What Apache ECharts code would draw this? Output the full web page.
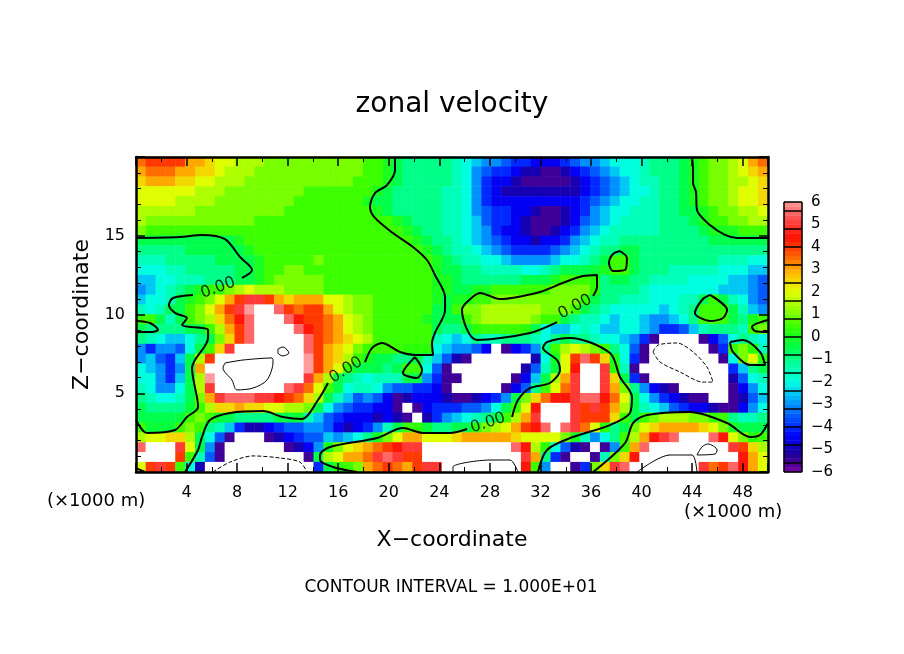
<!DOCTYPE html>
<html>
<head>
<meta charset="utf-8">
<title>zonal velocity</title>
<script src="https://cdn.jsdelivr.net/npm/echarts@6/dist/echarts.min.js"></script>
<style>
  html, body { margin: 0; padding: 0; background: #fff; }
  #chart { width: 904px; height: 654px; }
</style>
</head>
<body>
<div id="chart"></div>
<script>
// --- zonal velocity, top row first, 64 columns by 32 rows ---
// white areas are outside the colour bar, written as 9 and -9
const zonalRows = [
[3.5,4,4,4,4,3,3,2.5,2,2, 1.5,1.5,1.5,1,1,1,1,1,1,1, 1,1,1,.5,.5,0,-.5,-1,-1,-1, -1,-1,-1.5,-2,-2.5,-3,-3,-3.5,-4,-4, -4.5,-4.5,-4.5,-4,-3.5,-3,-3,-2.5,-2,-2, -2,-1.5,-1,-1,-1,-.5,0,.5,1,1, 1.5,2,3,3.5],
[3,3.5,3.5,3.5,3,3,2.5,2.5,2,1.5, 1.5,1.5,1,1,1,1,1,1,1,1, 1,1,1,.5,.5,0,-.5,-1,-1,-1, -1,-1,-1.5,-2,-3,-3.5,-4,-4,-4.5,-5, -5,-5.5,-5.5,-5,-4.5,-4,-3.5,-3,-2.5,-2, -2,-1.5,-1,-1,-1,-.5,0,.5,1,1, 1.5,2,2.5,3],
[2.5,3,3,3,2.5,2.5,2,2,1.5,1.5, 1.5,1,1,1,1,1,1,1,1,1, 1,1,.5,.5,.5,0,-.5,-1,-1,-1, -1,-1,-1.5,-2,-3,-4,-4.5,-4.5,-5,-5.5, -5.5,-5.5,-5.5,-5.5,-5,-4.5,-4,-3.5,-3,-2.5, -2,-1.5,-1.5,-1,-1,-.5,0,.5,1,1, 1.5,1.5,2,2.5],
[2,2,2,2,2,2,1.5,1.5,1.5,1, 1,1,1,1,1,1,1,.5,.5,.5, .5,.5,.5,.5,0,-.5,-1,-1,-1,-1, -1,-1.5,-1.5,-2,-3,-4,-4.5,-5,-5,-5, -5,-5,-5,-5,-5,-4.5,-4,-3.5,-3,-2.5, -2,-2,-1.5,-1,-1,-.5,0,.5,1,1, 1.5,2,2,2.5],
[2,2,2,2,1.5,1.5,1.5,1.5,1,1, 1,1,1,1,1,1,.5,.5,.5,.5, .5,.5,.5,0,-.5,-.5,-1,-1,-1,-1, -1,-1.5,-1.5,-2,-3,-4,-4.5,-4.5,-4.5,-4.5, -4.5,-4.5,-4.5,-4.5,-4.5,-4,-3.5,-3,-2.5,-2, -2,-1.5,-1.5,-1,-1,-.5,0,.5,1,1, 1.5,2,2,2.5],
[1.5,1.5,1.5,1.5,1.5,1.5,1,1,1,1, 1,1,1,1,1,.5,.5,.5,.5,.5, .5,.5,.5,.5,0,-.5,-1,-1,-1,-1, -1,-1.5,-1.5,-2,-3,-3.5,-4,-4,-4.5,-4.5, -5,-5.5,-5.5,-5,-4.5,-4,-3,-2.5,-2,-2, -1.5,-1.5,-1.5,-1,-1,-.5,-.5,0,.5,1, 1,1.5,1.5,2],
[1.5,1,1,1,1,1,1,1,1,1, 1,1,.5,.5,.5,.5,.5,.5,.5,.5, .5,.5,.5,.5,.5,.5,0,-.5,-1,-1, -1,-1.5,-1.5,-2,-2.5,-3.5,-4,-4,-4.5,-5, -5.5,-5.5,-5.5,-5,-4.5,-3.5,-3,-2.5,-2,-1.5, -1.5,-1.5,-1.5,-1,-1,-1,-.5,0,.5,.5, 1,1,1.5,1.5],
[1,.5,.5,.5,.5,.5,.5,.5,.5,.5, .5,.5,.5,.5,.5,.5,.5,.5,.5,.5, .5,.5,.5,.5,.5,.5,.5,0,-.5,-1, -1,-1.5,-1.5,-2,-2.5,-3,-4,-4.5,-4.5,-5, -5.5,-5.5,-5,-4.5,-4,-3,-2.5,-2,-1.5,-1.5, -1.5,-1.5,-1.5,-1,-1,-1,-1,-.5,0,0, 0,.5,.5,.5],
[-.5,-.5,-.5,-.5,-.5,-.5,-.5,-.5,-.5,-.5, 0,.5,.5,.5,.5,.5,.5,.5,.5,.5, .5,.5,.5,.5,.5,.5,.5,.5,0,-.5, -1,-1,-1.5,-2,-2.5,-3,-3.5,-4,-4.5,-4.5, -5,-4.5,-4.5,-4,-3,-2.5,-2,-1.5,-1.5,-1, -1,-1,-1,-1,-1,-1,-1,-1,-.5,-.5, -.5,-.5,-.5,-.5],
[-1,-1,-1,-1,-1,-.5,-.5,-.5,-.5,-.5, -.5,0,.5,.5,.5,.5,.5,.5,.5,.5, .5,.5,.5,.5,.5,.5,.5,.5,.5,0, -.5,-1,-1.5,-1.5,-2,-2.5,-3,-3.5,-4,-4, -4,-4,-3.5,-3,-2.5,-2,-1.5,-1,-1,-.5, -.5,-1,-1,-1,-1,-1,-1,-1,-1,-1, -1,-1,-1,-1],
[-1.5,-1.5,-1.5,-1,-1,-1,-1,-1,-.5,-.5, -.5,-.5,0,.5,.5,.5,.5,.5,1,.5, .5,.5,.5,.5,.5,.5,.5,.5,.5,.5, 0,-.5,-1,-1.5,-1.5,-2,-2,-2.5,-3,-3, -3,-3,-2.5,-2,-2,-1.5,-1,-.5,.5,.5, -.5,-1,-1,-1,-1,-1,-1,-1,-1,-1.5, -1.5,-1.5,-2,-2],
[-2,-2,-2,-1.5,-1.5,-1,-1,-1,-1,-1, -.5,-.5,0,.5,.5,1,1,.5,.5,.5, .5,.5,.5,.5,.5,.5,.5,.5,.5,.5, 0,-.5,-.5,-1,-1,-1.5,-1.5,-1.5,-1.5,-2, -2,-1.5,-1,-.5,-.5,-.5,-.3,0,.5,.5, -.5,-1,-1,-1,-1.5,-1.5,-1.5,-1.5,-1.5,-2, -2,-2,-2.5,-2.5],
[-2.5,-2.5,-2,-2,-1.5,-1.5,-1.5,-1,-1,-1, -.5,-.5,0,.5,1,1,1,1,1,.5, .5,.5,.5,.5,.5,.5,.5,.5,.5,.5, 0,0,-.5,-1,-1,-1,-1,-1,-1,-.5, -.5,-.5,0,.5,.5,.5,.3,-1,-.5,-.5, -1,-1,-1.5,-1.5,-1.5,-1.5,-2,-2,-2,-2, -2.5,-2.5,-3,-3.5],
[-3,-2.5,-2,-1.5,-1,-.5,0,.5,.5,1, 1.5,2,1.5,1.5,1.5,1,1,1,1,.5, .5,.5,.5,.5,.5,.5,.5,.5,.5,.5, 0,0,-.5,-.5,0,0,.5,.5,.5,.5, .5,.5,1,1,1,1,.3,-1,-1,-1, -1,-1.5,-2,-2,-2,-2,-2,-2,-2,-2.5, -2.5,-2.5,-3,-3.5],
[-2.5,-2,-2,-1.5,-.5,0,.5,1,2,3, 4,5,5,4,3,2.5,3,3,3,2, 2,1.5,1,1,.5,.5,.5,.5,.5,.5, 0,-.5,0,0,.5,.5,1,1,1,1, 1,1,1,1,1,.5,-.5,-1,-1,-1.5, -1.5,-1.5,-2,-2,-2,-1.5,-1.5,-.5,.5,-.5, -1.5,-2,-3,-3.5],
[-1.5,-2,-1.5,-.5,-.5,.5,1,2,3,4, 5,6,9,9,5.5,4,3.5,4,4,3, 2,1.5,1,1,.5,.5,.5,.5,.5,.5, -.5,-.5,.5,1,1,1.5,1.5,1.5,1.5,1.5, 1.5,1,1,1,.5,-.5,-1,-1.5,-2,-2, -2,-2,-2,-2.5,-2,-1.5,-1,.5,.5,.5, -.5,-1.5,-2.5,-3],
[.5,.5,-.5,-1.5,-.5,.5,1,1.5,2.5,3.5, 4.5,5.5,9,9,9,5.5,4.5,4,4,3.5, 3,2,1.5,1,.5,.5,.5,.5,.5,0, -.5,-.5,-.5,.5,1,1.5,1.5,1.5,1.5,1.5, 1,.5,.5,-.5,-1,-1.5,-1.5,-2,-2.5,-2, -2,-2.5,-3,-3,-2.5,-2,-1,.5,.5,.5, -.5,-1,0,.5],
[-.5,-1,-1,-1,-1,-.5,-.5,.5,1.5,3, 4,5.5,9,9,9,9,5.5,4.5,4,3.5, 3,2,1.5,1,.5,.5,.5,.5,.5,.5, -.5,-1,-1,-.5,.3,.5,.5,.5,.5,.3, -.5,-2,-2.5,-2.5,-2,-1.5,-2,-2.5,-2.5,-2, -2,-2.5,-3,-4,-4,-3.5,-2.5,-1.5,-1,-1, -1,-1.5,.5,1],
[-1,-1.5,-2,-2.5,-2.5,-2,-1,-.5,1,2.5, 4,5.5,9,9,9,9,9,5.5,4,3.5, 3,2.5,2,1.5,.5,.5,.5,.5,.5,.5, -1.5,-2,-2.5,-2,-1,-1.5,-1.5,-1,-1,-1, -1.5,-2,-1,-.5,-1,-1,-1.5,-2,-2,-2.5, -3,-4,-5.5,-9,-9,-9,-9,-5.5,-4.5,-3.5, -2,-1,-1.5,-2],
[-3,-4,-3,-3,-3.5,-2,-.5,.5,2.5,5, 9,9,9,9,9,9,9,5.5,4,3, 2.5,2,1,.5,.5,.5,.5,.3,.3,.3, -2,-2.5,-3,-3,-3.5,-4.5,-9,-5.5,-4.5,-4, -3,-1,.5,1.5,2,1.5,1,.5,-1,-2, -3.5,-5.5,-9,-9,-9,-9,-9,-9,-5.5,-4, .5,1,.3,-1.5],
[-3,-2.5,-3.5,-4,-2.5,-.5,1.5,4,9,9, 9,9,9,9,9,9,9,6,4,3, 2.5,1.5,.5,0,-.5,-.5,-1,-1,-.5,-1.5, -2.5,-3.5,-5,-5.5,-9,-9,-9,-9,-9,-9, -5,-2,0,2,4,5.5,4,2.5,0,-2, -4,-5.5,-9,-9,-9,-9,-9,-9,-9,-5.5, -2,1,2,.3],
[-2,-2.5,-3,-4,-3,-.5,3,9,9,9, 9,9,9,9,9,9,9,6,4,3, 2,.5,-.5,-.5,-.5,-1,-.5,.5,.5,-2, -3.5,-5.5,-9,-9,-9,-9,-9,-9,-9,-5, -3.5,-1.5,-.3,2,4.5,9,9,5,.3,-1.5, -5.5,-9,-9,-9,-9,-9,-9,-9,-9,-9, -4,-2.5,-1,-.5],
[-2,-2,-3,-4,-2.5,-.5,1.5,6,9,9, 9,9,9,9,9,9,9,5,3,1.5, -.5,-1,-1.5,-2,-1.5,-1.5,-1.5,-.5,-.5,-3, -4,-5.5,-5.5,-9,-9,-9,-9,-9,-5.5,-4.5, -2.5,-.5,1.5,3,5,9,9,5,2.5,-.5, -4,-5.5,-9,-9,-9,-9,-9,-9,-9,-9, -5,-3.5,-2,-1.5],
[-1.5,-2,-3,-3,-2,-.5,1.5,5,9,9, 9,9,9,9,9,5.5,5,3.5,2,.5, -.5,-2,-1.5,-1.5,-2,-3,-3.5,-3.5,-4,-4, -4.5,-5.5,-9,-9,-9,-9,-9,-5.5,-4.5,-3.5, -1,.5,2,3.5,5,9,9,5,3,1, -1,-3,-4.5,-5,-5.5,-9,-9,-9,-9,-9, -5.5,-4.5,-3,-2],
[-1,-1.5,-2,-2,-1.5,-.5,1,3,5,5.5, 5.5,5.5,5,5,4.5,4,3.5,2.5,1.5,-.5, -1.5,-2.5,-3.5,-3,-3.5,-4.5,-5.5,-5,-4.5,-4.5, -4.5,-5,-5.5,-5.5,-5,-4.5,-4,-3,-.5,1, 2.5,3.5,4.5,4.5,5,5.5,5.5,4.5,3.5,2, -.5,-2,-3,-4,-4.5,-5,-5.5,-5.5,-9,-9, -5.5,-5,-3.5,-2.5],
[-.5,-1,-1,-1,-1,-.3,.5,1.5,2.5,2.5, 3,2.5,2.5,2,2,1.5,1.5,1,-.5,-2, -3,-3.5,-4,-4,-4.5,-4.5,-5.5,-9,-5.5,-4.5, -4,-4,-4,-3.5,-3.5,-3,-2,-.5,.5,2, 4.5,9,9,9,5,4,5,4,3,1.5, -.5,-1.5,-2,-2.5,-3.5,-4,-4.5,-4.5,-5,-5.5, -5.5,-4.5,-3,-2],
[-.5,-.5,-.5,-.5,-.3,.5,1,.5,-.3,-.5, -1,-1,-1,-1,-.5,-.5,-.3,-1.5,-2.5,-3.5, -4,-4.5,-4.5,-4.5,-5,-4.5,-5,-5.5,-9,-5, -4,-3,-2.5,-2,-1.5,-1,-.5,.5,1.5,3, 5,9,9,9,5,4,4,4,2.5,.5, -.5,.5,1,1.5,1.5,1.5,1,1,.5,.5, -1,-1.5,-1.5,-1],
[.5,-.3,-.3,-.3,.5,1,.5,-1,-1.5,-2.5, -4,-5,-5,-4.5,-4,-3.5,-3.5,-3,-3,-3.5, -4.5,-5,-4.5,-4,-3,-1.5,-.5,.5,.3,-.3, -1,-1,-.5,-.5,.3,1,1.5,2,3,4, 4.5,5.5,9,5.5,5,3.5,2,.3,-1,-.5, 1,2,2.5,3,3,3,3,2.5,2,1, 0,-.5,-.5,-.5],
[1.5,2,2,2.5,2.5,1.5,-.5,-2,-3.5,-5.5, -9,-9,-9,-5.5,-5,-4.5,-4,-3.5,-3.5,-2.5, -3,-2.5,-2,-1,0,1,2,3,3,2, 2,2,2.5,3,3,3,3,3,2.5,2, 2,2,2,1,0,-1.5,-3,-2,-1,.5, 1.5,3,4.5,5,5.5,9,9,9,5.5,4.5, 2,1,.3,.5],
[5.5,9,9,9,5,2,-.5,-3,-5.5,-9, -9,-9,-9,-9,-9,-5.5,-5,-4.5,-3,0, 1,2,2.5,3,3.5,4,4.5,5,5,9, 9,9,9,9,9,9,9,9,5.5,4.5, 1.5,.3,-2,-3.5,-5,-5.5,-9,-5.5,-3,.5, 3,5.5,9,9,9,9,9,9,9,9, 5,4,2.5,1.5],
[9,9,9,9,4,.5,-1.5,-3.5,-5.5,-9, -9,-9,-9,-9,-9,-9,-9,-5.5,-.5,1.5, 2,3,3,3.5,5,5.5,5,4,4,9, 9,9,9,9,9,9,9,9,9,5, 3,-1,-4,-5.5,-9,-9,-5.5,-1.5,1,2.5, 4.5,9,9,9,9,9,9,9,9,9, 9,4.5,3,2],
[2,4,5,4,.5,-2,-5,-9,-9,-9, -9,-9,-9,-9,-9,-9,-9,-9,-4,-.5, .3,.5,1,3,3.5,4,3.5,3,4,5, 5,9,9,9,9,9,9,9,9,4.5, .5,-3,-9,-9,-5.5,-4,1,2.5,5,5.5, 9,9,9,9,9,9,9,5,3.5,4, 5.5,4.5,3,2]
];
const colorBarLevels = [-5.9,-5.7,-5.5,-5.3,-5.1,-4.9,-4.7,-4.5,-4.3,-4.1,-3.9,-3.7,-3.5,-3.3,-3.1,-2.9,-2.7,-2.5,-2.3,-2.1,-1.9,-1.7,-1.5,-1.3,-1.1,-0.9,-0.7,-0.5,-0.3,-0.1,0.1,0.3,0.5,0.7,0.9,1.1,1.3,1.5,1.7,1.9,2.1,2.3,2.5,2.7,2.9,3.1,3.3,3.5,3.7,3.9,4.1,4.3,4.5,4.7,4.9,5.1,5.3,5.5,5.7,5.9];
const colorBarBreaks = [6,5.6,4.8,4,3.2,2.4,1.6,0.8,0,-0.8,-1.6,-2.4,-3.2,-4,-4.8,-5.6,-6];
const colorStops = ["#7a00a0","#1e0096","#0000ff","#0050ff","#00a5ff","#00ffe0","#00ffa0","#00ff40","#30ff00","#90ff00","#dfff00","#ffc000","#ff6000","#ff1000","#ff4848","#ff9c9c"];

// --- contour lines, [x, z] in axis units ---
const zeroContours = [
    [[20.49,20],[20.49,19.17],[19.86,18.22],[18.91,17.71],[18.51,16.83],[18.91,16.13],[20.33,15.17],[21.91,14.29],[23.02,13.46],[23.65,12.51],[24.45,11.11],[24.45,10.29],[23.65,8.83],[23.42,8.19],[23.5,7.43],[22.07,7.43],[20.89,7.62],[19.46,8.19],[18.67,7.87],[18.12,6.98]],
    [[15.19,5.65],[14.4,4.57],[13.13,3.37],[11.63,3.49],[10.05,3.87],[7.44,3.75],[5.85,3.3],[5.22,2.22],[4.91,1.4],[3.88,0]],
    [[22.07,7.3],[21.12,6.29],[22.23,5.97],[22.63,6.48],[22.07,7.3]],
    [[0,14.86],[3.48,14.92],[5.22,15.05],[7.04,14.79],[8.23,13.65],[9.18,12.83],[8.39,12.32]],
    [[4.51,11.24],[2.93,11.05],[2.61,10.6],[3.09,10.1],[4.03,9.78],[3.64,9.33],[5.7,9.02],[5.7,8.51],[4.43,6.6],[4.91,4.13],[4.03,3.49],[3.09,2.67],[0.87,2.48],[0,3.3]],
    [[43.99,20],[44.07,19.17],[44.07,18.35],[44.3,17.78],[44.38,16.63],[45.41,15.68],[46.6,15.05],[47.55,14.86],[50,14.86]],
    [[36.16,11.17],[36.47,11.75],[36.47,12.51],[35.36,12.44],[33.94,12.06],[31.96,11.43],[28.8,10.98],[27.22,11.37],[26.19,10.79],[25.79,10.29],[26.98,8.38],[31.17,8.83],[33.31,9.52]],
    [[38.29,14.03],[38.84,13.59],[38.69,12.83],[37.74,12.76],[37.42,13.27],[37.74,13.84],[38.29,14.03]],
    [[45.41,11.24],[46.76,10.29],[46.44,9.78],[45.41,9.59],[44.22,10.1],[44.78,10.92],[45.41,11.24]],
    [[50,9.65],[48.73,9.21],[48.97,8.95],[50,8.89]],
    [[46.99,8.25],[48.02,8.38],[49.37,7.62],[49.77,6.79],[48.58,6.79],[47.23,7.62],[46.99,8.25]],
    [[0,9.59],[1.11,9.46],[1.74,9.02],[1.11,8.89],[0,8.89]],
    [[17.48,0],[15.59,0.32],[14.56,0.76],[14.56,1.08],[15.35,1.59],[19.07,2.16],[21.12,2.79],[22.71,2.48],[24.84,2.48],[26.19,2.73]],
    [[29.75,3.49],[30.22,4.57],[31.17,5.33],[32.75,5.65],[33.54,6.48],[33.31,7.11],[32.2,7.87],[32.52,8.25],[34.34,8.51],[37.5,7.56],[38.29,6.03],[39.24,4.76],[39.08,3.75],[37.5,2.98],[34.57,2.22],[32.52,1.4],[31.8,0]],
    [[36.16,0],[38.69,1.84],[39.32,3.11],[40.43,3.62],[43.83,3.81],[46.76,3.11],[48.58,2.22],[49.37,2.35],[50,3.11]],
    [[0,0.25],[0.71,0]]
];
const solidContours = [
    [[7.04,6.92],[8.47,7.11],[10.76,7.24],[10.84,6.98],[10.36,5.84],[9.26,5.33],[7.99,5.21],[7.59,5.84],[6.88,6.6],[7.04,6.92]],
    [[11.23,7.81],[11.63,7.94],[12.1,7.56],[11.63,7.37],[11.23,7.56],[11.23,7.81]],
    [[25.08,0],[25.08,0.32],[28.01,0.76],[29.59,0.76],[30.22,0]],
    [[39.64,0],[42.25,1.08],[43.99,1.08],[44.38,0]],
    [[44.38,1.08],[44.78,1.59],[45.25,1.78],[45.97,1.4],[45.81,1.14],[44.38,1.08]]
];
const dashedContours = [
    [[6.09,0],[7.44,0.63],[9.26,1.02],[11.39,0.89],[12.97,0.63],[13.53,0]],
    [[40.9,7.62],[41.3,8.06],[42.8,8.19],[44.07,7.62],[45.17,6.67],[45.65,5.71],[44.86,5.71],[43.04,6.35],[41.46,6.98],[40.9,7.62]]
];
// x, z, rotation of the 0.00 labels
const contourLabels = [[6.49,11.68,20],[16.61,6.48,32],[27.85,3.11,18],[34.73,10.48,28]];

const fontName = "DejaVu Sans";

// --- build heatmap cells ---
const rowCount = zonalRows.length;
const xCells = zonalRows[0].map((v, i) => i);
const zCells = zonalRows.map((v, i) => i);
const fieldData = [];
zonalRows.forEach((row, j) => {
    row.forEach((value, i) => {
        fieldData.push([i, rowCount - 1 - j, value]);
    });
});
const barData = colorBarLevels.map((level, i) => [0, i, level]);

function contourSeries(points, width, type) {
    return {
        type: "line",
        xAxisIndex: 0,
        yAxisIndex: 0,
        data: points,
        smooth: 0.3,
        showSymbol: false,
        silent: true,
        z: 4,
        lineStyle: { color: "#000", width: width, type: type }
    };
}

function minusSign(value) {
    return String(value).replace("-", "\u2212");
}

const frameAxis = {
    type: "value",
    gridIndex: 0,
    z: 6,
    axisLine: { show: true, onZero: false, lineStyle: { color: "#000", width: 2.5 } },
    axisTick: { show: true, inside: true, length: 9, lineStyle: { color: "#000", width: 1.5 } },
    minorTick: { show: true, length: 5, lineStyle: { color: "#000", width: 1 } },
    splitLine: { show: false },
    minorSplitLine: { show: false }
};

const myChart = echarts.init(document.getElementById("chart"), null, { renderer: "canvas" });

myChart.setOption({
    animation: false,
    backgroundColor: "#fff",
    textStyle: { fontFamily: fontName, color: "#000" },
    title: [
        { text: "zonal velocity", left: 452, top: 91, textAlign: "center", padding: 0, textStyle: { fontFamily: fontName, fontWeight: "normal", fontSize: 28, color: "#000" } },
        { text: "(\u00d71000 m)", left: 47, top: 492, padding: 0, textStyle: { fontFamily: fontName, fontWeight: "normal", fontSize: 18, color: "#000" } },
        { text: "(\u00d71000 m)", left: 684, top: 503, padding: 0, textStyle: { fontFamily: fontName, fontWeight: "normal", fontSize: 18, color: "#000" } },
        { text: "CONTOUR INTERVAL = 1.000E+01", left: 451, top: 579, textAlign: "center", padding: 0, textStyle: { fontFamily: fontName, fontWeight: "normal", fontSize: 17, color: "#000" } }
    ],
    grid: [
        { left: 136, top: 157, width: 632, height: 315 },
        { left: 784, top: 202, width: 18, height: 270 }
    ],
    xAxis: [
        {
            ...frameAxis,
            min: 0, max: 50, interval: 4,
            position: "bottom",
            minorTick: { ...frameAxis.minorTick, splitNumber: 2 },
            axisLabel: { show: true, margin: 13, fontSize: 16, fontFamily: fontName, color: "#000", showMinLabel: false, showMaxLabel: false },
            name: "X\u2212coordinate",
            nameLocation: "middle",
            nameGap: 57,
            nameTextStyle: { fontFamily: fontName, fontSize: 22, color: "#000" }
        },
        {
            ...frameAxis,
            min: 0, max: 50, interval: 4,
            position: "top",
            minorTick: { ...frameAxis.minorTick, splitNumber: 2 },
            axisLabel: { show: false }
        },
        { type: "category", gridIndex: 0, data: xCells, show: false },
        { type: "category", gridIndex: 1, data: [0], show: false },
        { type: "value", gridIndex: 1, min: 0, max: 1, show: false }
    ],
    yAxis: [
        {
            ...frameAxis,
            min: 0, max: 20, interval: 5,
            position: "left",
            minorTick: { ...frameAxis.minorTick, splitNumber: 5 },
            axisLabel: { show: true, margin: 11, fontSize: 16, fontFamily: fontName, color: "#000", showMinLabel: false, showMaxLabel: false },
            name: "Z\u2212coordinate",
            nameLocation: "middle",
            nameGap: 41,
            nameTextStyle: { fontFamily: fontName, fontSize: 22, color: "#000" }
        },
        {
            ...frameAxis,
            min: 0, max: 20, interval: 5,
            position: "right",
            minorTick: { ...frameAxis.minorTick, splitNumber: 5 },
            axisLabel: { show: false }
        },
        { type: "category", gridIndex: 0, data: zCells, show: false },
        { type: "category", gridIndex: 1, data: colorBarLevels, show: false },
        {
            type: "value",
            gridIndex: 1,
            min: -6, max: 6, interval: 1,
            position: "right",
            axisLine: { show: false },
            axisTick: { show: false },
            splitLine: { show: false },
            axisLabel: { show: true, margin: 9, fontSize: 15, fontFamily: fontName, color: "#000", formatter: minusSign, showMinLabel: true, showMaxLabel: true }
        }
    ],
    // range sits just inside min and max so that values past the bar turn white
    visualMap: {
        type: "continuous",
        show: false,
        seriesIndex: [0, 1],
        dimension: 2,
        min: -6.01,
        max: 6.01,
        range: [-6, 6],
        inRange: { color: colorStops },
        outOfRange: { color: "#ffffff" }
    },
    series: [
        {
            type: "heatmap",
            xAxisIndex: 2,
            yAxisIndex: 2,
            data: fieldData,
            progressive: 0,
            silent: true,
            z: 2
        },
        {
            type: "heatmap",
            xAxisIndex: 3,
            yAxisIndex: 3,
            data: barData,
            progressive: 0,
            silent: true,
            z: 2
        },
        {
            type: "line",
            xAxisIndex: 4,
            yAxisIndex: 4,
            data: [[0, -6], [1, 6]],
            showSymbol: false,
            silent: true,
            z: 5,
            lineStyle: { width: 0 },
            markLine: {
                silent: true,
                symbol: "none",
                animation: false,
                label: { show: false },
                lineStyle: { color: "#000", width: 1.5, type: "solid" },
                data: colorBarBreaks.map((v) => ({ yAxis: v })).concat([{ xAxis: 0 }, { xAxis: 1 }])
            }
        },
        ...zeroContours.map((points) => contourSeries(points, 2, "solid")),
        ...solidContours.map((points) => contourSeries(points, 1, "solid")),
        ...dashedContours.map((points) => contourSeries(points, 1, "dashed")),
        {
            type: "scatter",
            xAxisIndex: 0,
            yAxisIndex: 0,
            symbolSize: 0,
            silent: true,
            z: 5,
            data: contourLabels.map((item) => ({
                value: [item[0], item[1]],
                label: { rotate: item[2] }
            })),
            label: {
                show: true,
                position: "inside",
                formatter: "0.00",
                fontFamily: fontName,
                fontSize: 16,
                color: "#000"
            }
        }
    ]
});
</script>
</body>
</html>
